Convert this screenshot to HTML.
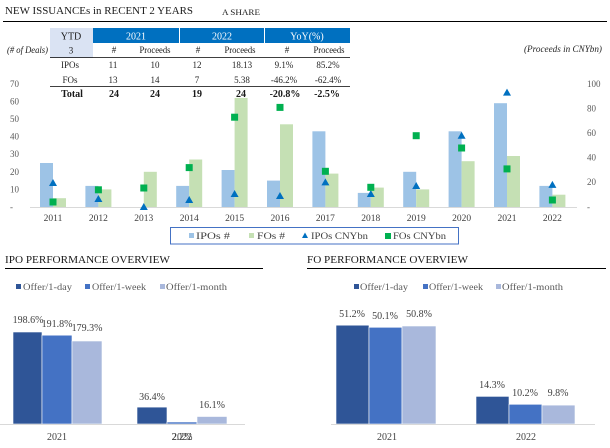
<!DOCTYPE html>
<html><head><meta charset="utf-8"><style>
html,body{margin:0;padding:0;background:#fff;}
svg{display:block;font-family:"Liberation Serif",serif;}
</style></head><body>
<svg width="610" height="448" viewBox="0 0 610 448" xmlns="http://www.w3.org/2000/svg">
<rect width="610" height="448" fill="#fff"/>
<!-- Title -->
<text x="5" y="14" font-size="11" fill="#1a1a1a" textLength="188" lengthAdjust="spacingAndGlyphs">NEW ISSUANCEs in RECENT 2 YEARS</text>
<text x="222" y="15" font-size="8" fill="#1a1a1a" textLength="38" lengthAdjust="spacingAndGlyphs">A SHARE</text>
<line x1="3" y1="21.5" x2="607" y2="21.5" stroke="#000" stroke-width="1"/>

<!-- Main chart axes -->
<g font-size="9" fill="#595959">
<text x="10" y="87">70</text><text x="10" y="104.4">60</text><text x="10" y="122">50</text><text x="10" y="139.6">40</text><text x="10" y="157.2">30</text><text x="10" y="174.8">20</text><text x="10" y="192.4">10</text><text x="10" y="210">-</text>
<text x="587" y="87">100</text><text x="587" y="111.4">80</text><text x="587" y="136">60</text><text x="587" y="160.6">40</text><text x="587" y="185.2">20</text><text x="587" y="210">-</text>
</g>
<text x="602" y="52" font-size="9" font-style="italic" fill="#262626" text-anchor="end" textLength="78" lengthAdjust="spacingAndGlyphs">(Proceeds in CNYbn)</text>

<!-- IPO # bars -->
<g fill="#9dc3e6">
<rect x="40" y="163" width="13" height="44"/>
<rect x="85.4" y="185.9" width="13" height="21.1"/>
<rect x="176.2" y="185.9" width="13" height="21.1"/>
<rect x="221.6" y="170" width="13" height="37"/>
<rect x="267" y="180.6" width="13" height="26.4"/>
<rect x="312.4" y="131.3" width="13" height="75.7"/>
<rect x="357.8" y="192.9" width="13" height="14.1"/>
<rect x="403.2" y="171.8" width="13" height="35.2"/>
<rect x="448.6" y="131.3" width="13" height="75.7"/>
<rect x="494" y="103.2" width="13" height="103.8"/>
<rect x="539.4" y="185.9" width="13" height="21.1"/>
</g>
<!-- FO # bars -->
<g fill="#c5e0b4">
<rect x="53" y="198.2" width="13" height="8.8"/>
<rect x="98.4" y="189.4" width="13" height="17.6"/>
<rect x="143.8" y="171.8" width="13" height="35.2"/>
<rect x="189.2" y="159.5" width="13" height="47.5"/>
<rect x="234.6" y="97.9" width="13" height="109.1"/>
<rect x="280" y="124.3" width="13" height="82.7"/>
<rect x="325.4" y="173.6" width="13" height="33.4"/>
<rect x="370.8" y="187.6" width="13" height="19.4"/>
<rect x="416.2" y="189.4" width="13" height="17.6"/>
<rect x="461.6" y="161.2" width="13" height="45.8"/>
<rect x="507" y="156" width="13" height="51"/>
<rect x="552.4" y="194.7" width="13" height="12.3"/>
</g>
<line x1="30" y1="207.5" x2="577" y2="207.5" stroke="#d9d9d9" stroke-width="1"/>

<!-- IPO CNY triangles -->
<g fill="#0070c0">
<polygon points="53,179 49,186 57,186"/>
<polygon points="98.4,195 94.4,202 102.4,202"/>
<polygon points="143.8,203 139.8,210 147.8,210"/>
<polygon points="189.2,196 185.2,203 193.2,203"/>
<polygon points="234.6,190 230.6,197 238.6,197"/>
<polygon points="280,192 276,199 284,199"/>
<polygon points="325.4,178.4 321.4,185.4 329.4,185.4"/>
<polygon points="370.8,190 366.8,197 374.8,197"/>
<polygon points="416.2,182 412.2,189 420.2,189"/>
<polygon points="461.6,131.7 457.6,138.7 465.6,138.7"/>
<polygon points="507,88.6 503,95.6 511,95.6"/>
<polygon points="552.4,180.9 548.4,187.9 556.4,187.9"/>
</g>
<!-- FO CNY squares -->
<g fill="#00b050">
<rect x="49.5" y="198.5" width="7" height="7"/>
<rect x="94.9" y="186.3" width="7" height="7"/>
<rect x="140.3" y="184.5" width="7" height="7"/>
<rect x="185.7" y="164.1" width="7" height="7"/>
<rect x="231.1" y="113.7" width="7" height="7"/>
<rect x="276.5" y="103.9" width="7" height="7"/>
<rect x="321.9" y="167.8" width="7" height="7"/>
<rect x="367.3" y="183.8" width="7" height="7"/>
<rect x="412.7" y="132.2" width="7" height="7"/>
<rect x="458.1" y="144.5" width="7" height="7"/>
<rect x="503.5" y="165.4" width="7" height="7"/>
<rect x="548.9" y="196.5" width="7" height="7"/>
</g>

<!-- Year labels -->
<g font-size="9.5" fill="#404040" text-anchor="middle">
<text x="53" y="221">2011</text><text x="98.4" y="221">2012</text><text x="143.8" y="221">2013</text><text x="189.2" y="221">2014</text><text x="234.6" y="221">2015</text><text x="280" y="221">2016</text><text x="325.4" y="221">2017</text><text x="370.8" y="221">2018</text><text x="416.2" y="221">2019</text><text x="461.6" y="221">2020</text><text x="507" y="221">2021</text><text x="552.4" y="221">2022</text>
</g>

<!-- Legend -->
<rect x="170.5" y="227.5" width="288" height="16.5" fill="#fff" stroke="#4472c4" stroke-width="1"/>
<rect x="189" y="233" width="5" height="5" fill="#9dc3e6"/>
<text x="196" y="239" font-size="9" fill="#404040" textLength="34" lengthAdjust="spacingAndGlyphs">IPOs  #</text>
<rect x="249" y="233" width="5" height="5" fill="#c5e0b4"/>
<text x="257" y="239" font-size="9" fill="#404040" textLength="28" lengthAdjust="spacingAndGlyphs">FOs  #</text>
<polygon points="305,232.5 302,238 308,238" fill="#0070c0"/>
<text x="311" y="239" font-size="9" fill="#404040" textLength="57" lengthAdjust="spacingAndGlyphs">IPOs  CNYbn</text>
<rect x="385" y="233" width="6" height="6" fill="#00b050"/>
<text x="393" y="239" font-size="9" fill="#404040" textLength="53" lengthAdjust="spacingAndGlyphs">FOs CNYbn</text>

<!-- Table -->
<rect x="50" y="28" width="43" height="30" fill="#dae3f3"/>
<rect x="93" y="28" width="257" height="15" fill="#0070c0"/>
<line x1="179.5" y1="28" x2="179.5" y2="43" stroke="#fff" stroke-width="1"/>
<line x1="264.5" y1="28" x2="264.5" y2="43" stroke="#fff" stroke-width="1"/>
<text x="71" y="39.5" font-size="10" fill="#1a1a1a" text-anchor="middle">YTD</text>
<g font-size="10" fill="#fff" text-anchor="middle">
<text x="136" y="39.5">2021</text><text x="222" y="39.5">2022</text><text x="307" y="39.5">YoY(%)</text>
</g>
<text x="7" y="53" font-size="9" font-style="italic" fill="#1a1a1a" textLength="41" lengthAdjust="spacingAndGlyphs">(# of Deals)</text>
<g font-size="9" fill="#1a1a1a" text-anchor="middle">
<text x="71" y="53.5">3</text>
<text x="114" y="53">#</text><text x="155" y="53" textLength="31" lengthAdjust="spacingAndGlyphs">Proceeds</text>
<text x="198" y="53">#</text><text x="240" y="53" textLength="31" lengthAdjust="spacingAndGlyphs">Proceeds</text>
<text x="287" y="53">#</text><text x="329" y="53" textLength="31" lengthAdjust="spacingAndGlyphs">Proceeds</text>
</g>
<line x1="50" y1="57.5" x2="350" y2="57.5" stroke="#000" stroke-width="0.8"/>
<g font-size="9" fill="#262626" text-anchor="middle">
<text x="70" y="68">IPOs</text><text x="113" y="68">11</text><text x="155" y="68">10</text><text x="197" y="68">12</text><text x="242" y="68">18.13</text><text x="284" y="68">9.1%</text><text x="328" y="68">85.2%</text>
<text x="70" y="83">FOs</text><text x="113" y="83">13</text><text x="155" y="83">14</text><text x="197" y="83">7</text><text x="242" y="83">5.38</text><text x="284" y="83">-46.2%</text><text x="328" y="83">-62.4%</text>
</g>
<line x1="50" y1="86.5" x2="350" y2="86.5" stroke="#000" stroke-width="0.8"/>
<g font-size="10" font-weight="bold" fill="#1a1a1a" text-anchor="middle">
<text x="72" y="97">Total</text><text x="114" y="97">24</text><text x="155" y="97">24</text><text x="197" y="97">19</text><text x="241" y="97">24</text><text x="285" y="97">-20.8%</text><text x="327" y="97">-2.5%</text>
</g>

<!-- IPO performance -->
<text x="5" y="263" font-size="10" fill="#1a1a1a" textLength="165" lengthAdjust="spacingAndGlyphs">IPO PERFORMANCE OVERVIEW</text>
<line x1="5" y1="268.5" x2="263" y2="268.5" stroke="#000" stroke-width="1"/>
<rect x="16" y="284" width="5" height="5" fill="#2f5597"/>
<text x="23" y="290" font-size="9" fill="#595959" textLength="49" lengthAdjust="spacingAndGlyphs">Offer/1-day</text>
<rect x="85" y="284" width="5" height="5" fill="#4472c4"/>
<text x="92" y="290" font-size="9" fill="#595959" textLength="54" lengthAdjust="spacingAndGlyphs">Offer/1-week</text>
<rect x="160" y="284" width="5" height="5" fill="#a9b8dc"/>
<text x="166" y="290" font-size="9" fill="#595959" textLength="61" lengthAdjust="spacingAndGlyphs">Offer/1-month</text>
<g stroke="#fff" stroke-width="0.6">
<rect x="13" y="332" width="29" height="92" fill="#2f5597"/>
<rect x="42" y="335.2" width="30" height="88.8" fill="#4472c4"/>
<rect x="72" y="341" width="30" height="83" fill="#a9b8dc"/>
<rect x="137" y="407.1" width="30" height="16.9" fill="#2f5597"/>
<rect x="167" y="422" width="30" height="2" fill="#4472c4"/>
<rect x="197" y="416.5" width="30" height="7.5" fill="#a9b8dc"/>
</g>
<line x1="0" y1="424.5" x2="245" y2="424.5" stroke="#d9d9d9" stroke-width="1"/>
<g font-size="10" fill="#404040" text-anchor="middle">
<text x="28" y="323">198.6%</text><text x="57" y="327">191.8%</text><text x="87" y="331">179.3%</text>
<text x="152" y="400">36.4%</text><text x="212" y="408">16.1%</text><text x="182" y="440">2.2%</text>
<text x="57" y="440">2021</text><text x="182" y="440">2022</text>
</g>

<!-- FO performance -->
<text x="307" y="263" font-size="10" fill="#1a1a1a" textLength="161" lengthAdjust="spacingAndGlyphs">FO PERFORMANCE OVERVIEW</text>
<line x1="307" y1="268.5" x2="606" y2="268.5" stroke="#000" stroke-width="1"/>
<rect x="354" y="284" width="5" height="5" fill="#2f5597"/>
<text x="360" y="290" font-size="9" fill="#595959" textLength="48" lengthAdjust="spacingAndGlyphs">Offer/1-day</text>
<rect x="423" y="284" width="5" height="5" fill="#4472c4"/>
<text x="429" y="290" font-size="9" fill="#595959" textLength="54" lengthAdjust="spacingAndGlyphs">Offer/1-week</text>
<rect x="496" y="284" width="5" height="5" fill="#a9b8dc"/>
<text x="502" y="290" font-size="9" fill="#595959" textLength="61" lengthAdjust="spacingAndGlyphs">Offer/1-month</text>
<g stroke="#fff" stroke-width="0.6">
<rect x="336" y="325.2" width="33" height="98.8" fill="#2f5597"/>
<rect x="369" y="327.3" width="33" height="96.7" fill="#4472c4"/>
<rect x="402" y="326" width="34" height="98" fill="#a9b8dc"/>
<rect x="476" y="396.4" width="33" height="27.6" fill="#2f5597"/>
<rect x="509" y="404.3" width="33" height="19.7" fill="#4472c4"/>
<rect x="542" y="405.1" width="33" height="18.9" fill="#a9b8dc"/>
</g>
<line x1="331" y1="424.5" x2="595" y2="424.5" stroke="#d9d9d9" stroke-width="1"/>
<g font-size="10" fill="#404040" text-anchor="middle">
<text x="352" y="317">51.2%</text><text x="385" y="319">50.1%</text><text x="419" y="317">50.8%</text>
<text x="492" y="388">14.3%</text><text x="525" y="396">10.2%</text><text x="558" y="396">9.8%</text>
<text x="387" y="440">2021</text><text x="526" y="440">2022</text>
</g>
</svg>
</body></html>
